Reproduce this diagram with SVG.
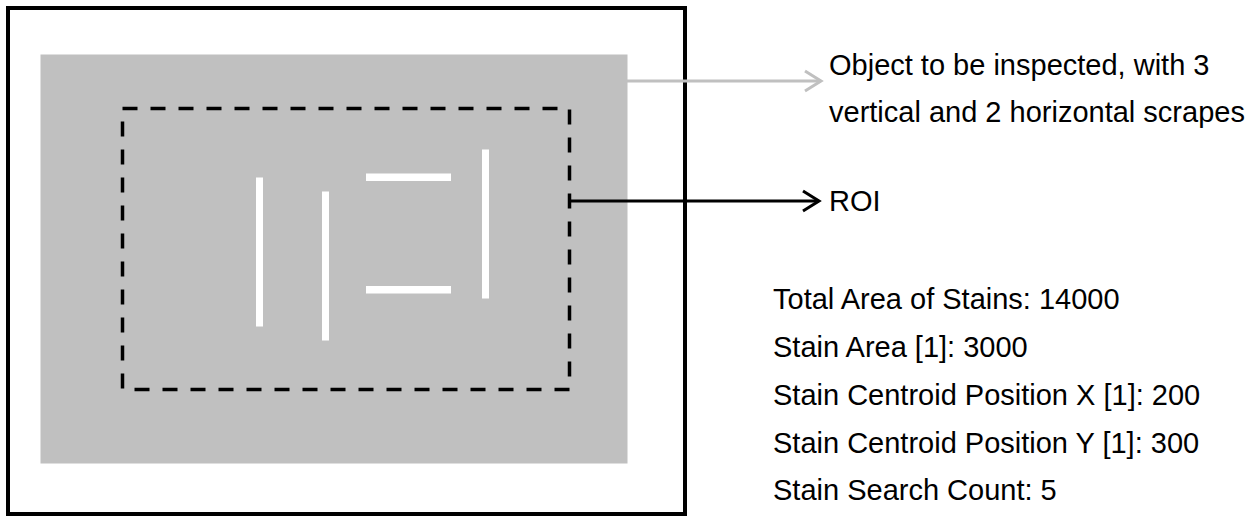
<svg xmlns="http://www.w3.org/2000/svg" width="1255" height="516" viewBox="0 0 1255 516">
  <style>
    .label { font-family: "Liberation Sans", Arial, sans-serif; font-size: 29px; fill: #000; }
    .scrape { fill: #fff; }
    .conn { fill: none; stroke-width: 3; }
  </style>
  <defs>
    <marker id="arrowGray" markerUnits="userSpaceOnUse" viewBox="0 0 20 24" markerWidth="20" markerHeight="24" refX="17" refY="12" orient="auto" overflow="visible">
      <path d="M1,2 L17,12 L1,22" fill="none" stroke="#c0c0c0" stroke-width="3"/>
    </marker>
    <marker id="arrowBlack" markerUnits="userSpaceOnUse" viewBox="0 0 20 24" markerWidth="20" markerHeight="24" refX="17" refY="12" orient="auto" overflow="visible">
      <path d="M1,2 L17,12 L1,22" fill="none" stroke="#000" stroke-width="3"/>
    </marker>
  </defs>
  <rect width="1255" height="516" fill="#fff"/>

  <g id="frame">
    <rect x="8" y="8" width="677" height="506" fill="none" stroke="#000" stroke-width="4"/>
  </g>

  <g id="object">
    <rect x="40.5" y="54.5" width="587" height="409" fill="#c0c0c0"/>
    <rect class="scrape" x="256" y="177.5" width="7" height="149"/>
    <rect class="scrape" x="322" y="191.5" width="7" height="149"/>
    <rect class="scrape" x="366" y="173.5" width="85" height="7.5"/>
    <rect class="scrape" x="366" y="286" width="85" height="7.5"/>
    <rect class="scrape" x="482" y="149.5" width="7" height="149"/>
  </g>

  <g id="roi">
    <rect x="122.5" y="108.5" width="447" height="281" fill="none" stroke="#000" stroke-width="3.5" stroke-dasharray="15 13"/>
  </g>

  <g id="connectors">
    <line class="conn" x1="627" y1="81" x2="821" y2="81" stroke="#c0c0c0" marker-end="url(#arrowGray)"/>
    <line class="conn" x1="569" y1="201" x2="819" y2="201" stroke="#000" marker-end="url(#arrowBlack)"/>
  </g>

  <g id="label-object">
    <text class="label" x="829" y="75">Object to be inspected, with 3</text>
    <text class="label" x="829" y="122">vertical and 2 horizontal scrapes</text>
  </g>

  <g id="label-roi">
    <text class="label" x="829" y="211">ROI</text>
  </g>

  <g id="results">
    <text class="label" x="773" y="309">Total Area of Stains: 14000</text>
    <text class="label" x="773" y="357">Stain Area [1]: 3000</text>
    <text class="label" x="773" y="405">Stain Centroid Position X [1]: 200</text>
    <text class="label" x="773" y="453">Stain Centroid Position Y [1]: 300</text>
    <text class="label" x="773" y="500">Stain Search Count: 5</text>
  </g>
</svg>
